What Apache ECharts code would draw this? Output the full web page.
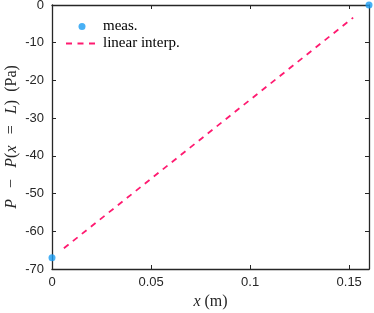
<!DOCTYPE html>
<html><head><meta charset="utf-8">
<script src="https://cdn.jsdelivr.net/npm/echarts@6/dist/echarts.min.js"></script>
<style>html,body{margin:0;padding:0;background:#fff}#c{width:374px;height:313px}</style>
</head><body><div id="c"></div>
<script>
// measured points
var measX = [0, 0.16];
var measY = [-67, 0];
// linear interpolation line (drawn over interior span)
var interpX = [0.006, 0.152];
var interpY = [-64.5, -3.35];
var xTicks = [0, 0.05, 0.1, 0.15];
var yTicks = [-70, -60, -50, -40, -30, -20, -10, 0];

var axisColor = '#262626';
var serif = 'Liberation Serif';
var chart = echarts.init(document.getElementById('c'), null, {renderer: 'canvas'});
var commonAxis = {
  axisLine: {show: true, onZero: false, lineStyle: {color: axisColor, width: 1.3}},
  axisTick: {show: true, inside: true, length: 4, lineStyle: {color: axisColor, width: 1}},
  splitLine: {show: false}
};
var nameStyle = {fontFamily: serif, fontSize: 16, color: axisColor,
  rich: {i: {fontStyle: 'italic', fontFamily: serif, fontSize: 16, color: axisColor}}};
chart.setOption({
  animation: false,
  grid: {left: 52, right: 5, top: 5, bottom: 44, containLabel: false, outerBoundsMode: 'none'},
  legend: {
    left: 65, top: 19, padding: 0, orient: 'vertical', itemWidth: 32, itemHeight: 7, itemGap: 2,
    textStyle: {fontFamily: serif, fontSize: 15, color: '#000'},
    data: [{name: 'meas.'}, {name: 'linear interp.', itemStyle: {opacity: 0}}]
  },
  xAxis: [
    Object.assign({}, commonAxis, {
      type: 'value', min: 0, max: 0.16, interval: 0.05, position: 'bottom',
      axisLabel: {showMaxLabel: false, color: axisColor, fontFamily: 'Liberation Sans', fontSize: 13, margin: 7,
        formatter: function (v) { return xTicks.indexOf(Math.round(v * 100) / 100) >= 0 ? String(Math.round(v * 100) / 100) : ''; }},
      name: '{i|x} (m)', nameLocation: 'middle', nameGap: 25, nameMoveOverlap: false,
      nameTextStyle: nameStyle
    }),
    Object.assign({}, commonAxis, {
      type: 'value', min: 0, max: 0.16, interval: 0.05, position: 'top',
      axisLabel: {show: false}
    })
  ],
  yAxis: [
    Object.assign({}, commonAxis, {
      type: 'value', min: -70, max: 0, interval: 10, position: 'left',
      axisLabel: {color: axisColor, fontFamily: 'Liberation Sans', fontSize: 13, margin: 8,
        formatter: function (v) { return yTicks.indexOf(v) >= 0 ? String(v) : ''; }},
      name: '{i|P}\u2002\u2009\u2212\u2002\u2009{i|P}({i|x}\u2002\u2009=\u2002\u2009{i|L})\u2002(Pa)', nameLocation: 'middle', nameGap: 32, nameMoveOverlap: false,
      nameTextStyle: nameStyle
    }),
    Object.assign({}, commonAxis, {
      type: 'value', min: -70, max: 0, interval: 10, position: 'right',
      axisLabel: {show: false}
    })
  ],
  series: [
    {
      name: 'meas.', type: 'scatter', symbol: 'circle', symbolSize: 7, clip: false,
      itemStyle: {color: '#1a9cf2'},
      data: measX.map(function (x, i) { return [x, measY[i]]; }),
      z: 5
    },
    {
      name: 'linear interp.', type: 'line', symbol: 'none', showSymbol: false,
      lineStyle: {color: '#ff1a70', width: 1.8, type: [6, 5.5]},
      itemStyle: {color: '#ff1a70'},
      data: interpX.map(function (x, i) { return [x, interpY[i]]; })
    }
  ]
});
</script></body></html>
